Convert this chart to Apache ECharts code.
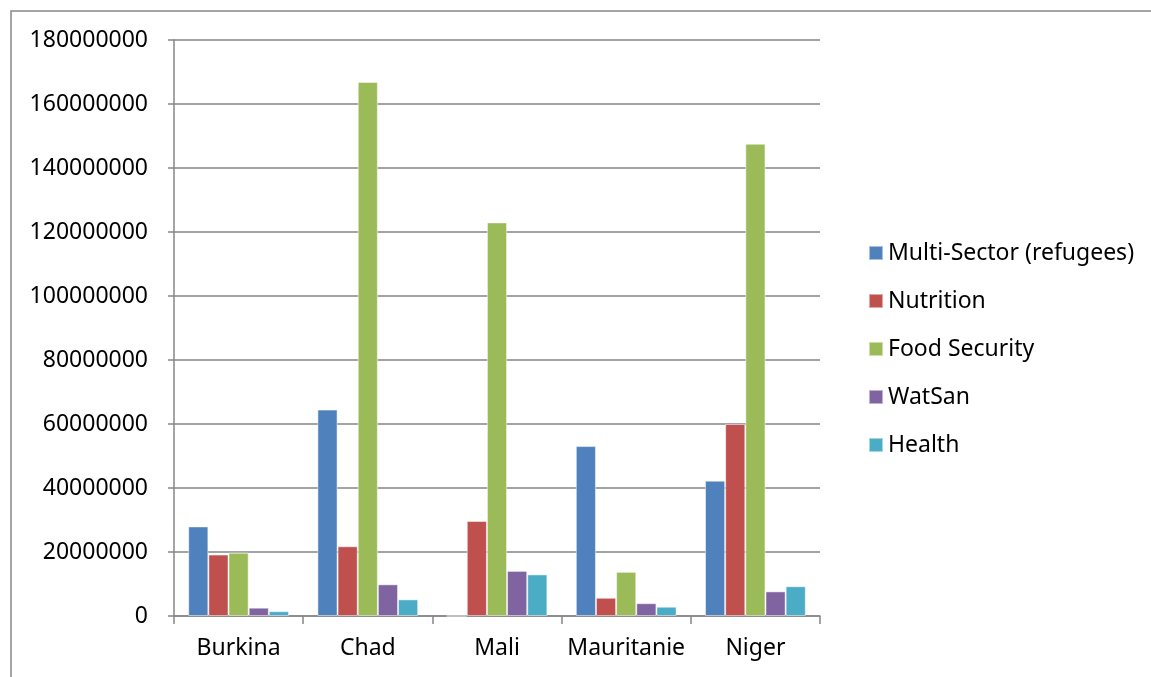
<!DOCTYPE html>
<html>
<head>
<meta charset="utf-8">
<script src="https://cdn.jsdelivr.net/npm/echarts@6/dist/echarts.min.js"></script>
<style>
  html, body { margin: 0; padding: 0; background: #fff; }
  #chart { width: 1151px; height: 677px; }
</style>
</head>
<body>
<div id="chart"></div>
<script>
const countries = ['Burkina', 'Chad', 'Mali', 'Mauritanie', 'Niger'];
const multiSector = [28000000, 64500000, 0, 53100000, 42300000];
const nutrition = [19200000, 21800000, 29700000, 5700000, 60000000];
const foodSecurity = [19800000, 166900000, 123000000, 13800000, 147600000];
const watSan = [2600000, 9900000, 14100000, 4000000, 7700000];
const health = [1500000, 5200000, 13000000, 2900000, 9300000];

const seriesNames = ['Multi-Sector (refugees)', 'Nutrition', 'Food Security', 'WatSan', 'Health'];
const seriesData = [multiSector, nutrition, foodSecurity, watSan, health];
const colors = ['#4F81BD', '#C0504D', '#9BBB59', '#8064A2', '#4BACC6'];

const font = 'Noto Sans';
const axisGray = '#868686';

const chart = echarts.init(document.getElementById('chart'));
chart.setOption({
    animation: false,
    color: colors,
    textStyle: { fontFamily: font },
    graphic: [{
        type: 'rect',
        shape: { x: 11, y: 11, width: 1160, height: 700 },
        style: { fill: 'none', stroke: axisGray, lineWidth: 1.5 },
        silent: true
    }],
    grid: { left: 174, right: 331, top: 40, bottom: 61 },
    legend: {
        orient: 'vertical',
        left: 863,
        top: 233,
        itemWidth: 14,
        itemHeight: 14,
        itemGap: 18,
        icon: 'rect',
        textStyle: { fontSize: 23, color: '#000', fontFamily: font, lineHeight: 30 },
        data: seriesNames
    },
    xAxis: {
        type: 'category',
        data: countries,
        axisLine: { lineStyle: { color: axisGray, width: 1.5 } },
        axisTick: { show: true, interval: 0, length: 8, lineStyle: { color: axisGray, width: 1.5 } },
        axisLabel: { color: '#000', fontSize: 23, margin: 21, interval: 0 }
    },
    yAxis: {
        type: 'value',
        min: 0,
        max: 180000000,
        interval: 20000000,
        axisLine: { show: true, lineStyle: { color: axisGray, width: 1.5 } },
        axisTick: { show: true, length: 6, lineStyle: { color: axisGray, width: 1.5 } },
        splitLine: { lineStyle: { color: axisGray, width: 1.5 } },
        axisLabel: { color: '#000', fontSize: 23, margin: 26, formatter: v => String(v) }
    },
    series: seriesNames.map((name, i) => ({
        name: name,
        type: 'bar',
        data: seriesData[i],
        barGap: '0%',
        barCategoryGap: '22%',
        itemStyle: { borderColor: 'rgba(255,255,255,0.5)', borderWidth: 1 }
    }))
});
</script>
</body>
</html>
